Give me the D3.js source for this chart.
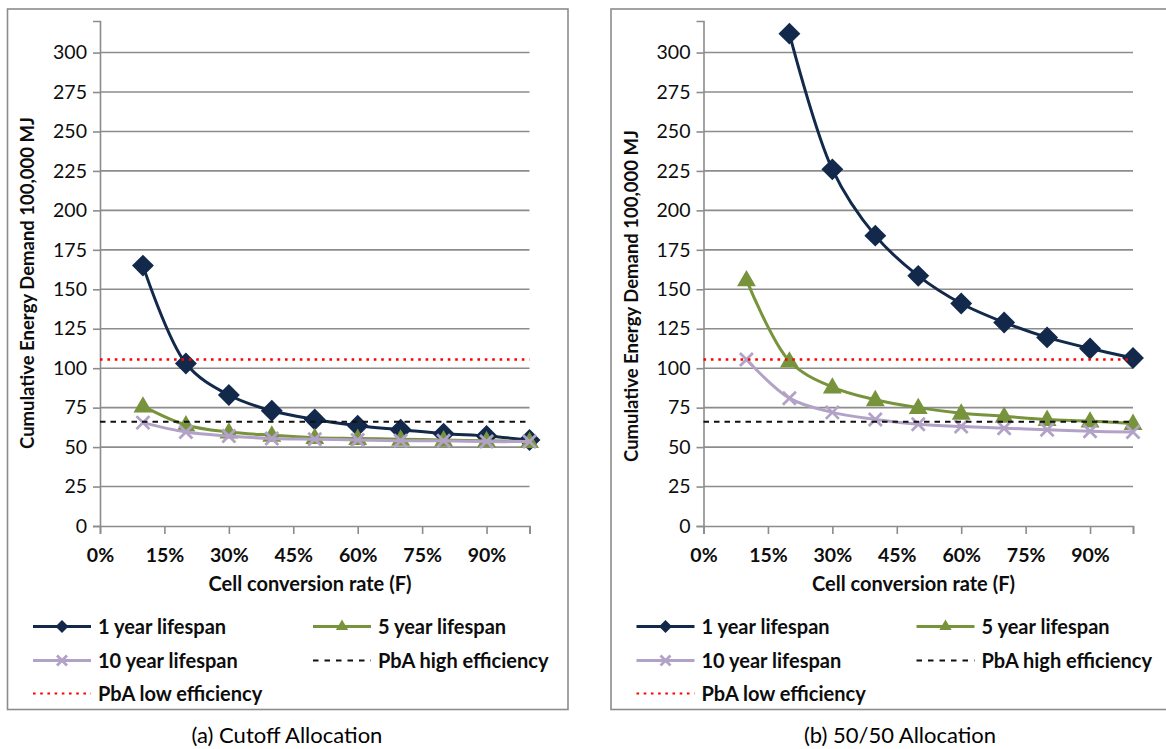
<!DOCTYPE html>
<html>
<head>
<meta charset="utf-8">
<script src="https://cdn.jsdelivr.net/npm/d3@7"></script>
<style>
  body { margin: 0; background: #fff; }
  svg { display: block; font-family: Lato, "Open Sans", sans-serif; }
  .grid line { stroke: #8c8c8c; stroke-width: 1.6; }
</style>
</head>
<body>
<div id="chart"></div>
<script>
// conversion rate F for every point
const rates = [0.1, 0.2, 0.3, 0.4, 0.5, 0.6, 0.7, 0.8, 0.9, 1.0]

// (a) cutoff allocation
const cutoffOneYear = [165, 103, 83, 73, 67.5, 63.5, 61, 58.5, 57, 54.5]
const cutoffFiveYear = [76, 64, 59.5, 57.5, 56, 55.5, 55, 54.5, 54, 53.5]
const cutoffTenYear = [65.5, 59.5, 57, 55.5, 55, 54.5, 54, 54, 53.5, 53.5]

// (b) 50/50 allocation (1 year at 10% is off the chart)
const splitOneYear = [null, 312, 226, 184, 158.5, 141, 129, 119.5, 112.5, 106.5]
const splitFiveYear = [156, 104.5, 88, 80, 75, 71.5, 69.5, 67.5, 66.5, 65]
const splitTenYear = [105.5, 81, 72, 67.5, 64.5, 63, 62, 61, 60, 59.5]

// lead-acid reference levels
const pbaHigh = 66
const pbaLow = 105.5

const yTicks = [0, 25, 50, 75, 100, 125, 150, 175, 200, 225, 250, 275, 300]
const xTicks = [0, 0.15, 0.3, 0.45, 0.6, 0.75, 0.9]
const legendLabels = ["1 year lifespan", "5 year lifespan", "10 year lifespan", "PbA high efficiency", "PbA low efficiency"]
const captions = ["(a) Cutoff Allocation", "(b) 50/50 Allocation"]

const navy = "#13294b", green = "#77933c", lilac = "#b3a2c7"
const ink = "#0d0d0d"

const width = 1166, height = 749

const svg = d3.select("#chart").append("svg")
    .attr("width", width)
    .attr("height", height)

const yScale = d3.scaleLinear().domain([0, 320]).range([526, 21])

const diamond = d3.symbol().type(d3.symbolSquare)
const triangle = d3.symbol().type(d3.symbolTriangle)
const crossPath = s => `M${-s},${-s}L${s},${s}M${-s},${s}L${s},${-s}`

function drawMarker(g, kind, x, y, big) {
    if (kind === "diamond") {
        g.append("path")
            .attr("d", diamond.size(big ? 240 : 85)())
            .attr("transform", `translate(${x},${y}) rotate(45)`)
            .attr("fill", navy)
    } else if (kind === "triangle") {
        g.append("path")
            .attr("d", triangle.size(big ? 155 : 65)())
            .attr("transform", `translate(${x},${y + (big ? 1 : 0)})`)
            .attr("fill", green)
    } else if (kind === "cross") {
        g.append("path")
            .attr("d", crossPath(big ? 6.5 : 5))
            .attr("transform", `translate(${x},${y})`)
            .attr("stroke", lilac)
            .attr("stroke-width", 2.8)
            .attr("fill", "none")
    }
}

function drawPanel(ox, boxW, captionX, series, caption) {
    const g = svg.append("g").attr("transform", `translate(${ox},0)`)
    const xScale = d3.scaleLinear().domain([0, 1]).range([100, 529.5])

    // frame around the panel
    g.append("rect")
        .attr("x", 7.5).attr("y", 9)
        .attr("width", boxW).attr("height", 700.5)
        .attr("fill", "none")
        .attr("stroke", "#8c8c8c")
        .attr("stroke-width", 1.6)

    // horizontal gridlines
    g.append("g").attr("class", "grid")
        .selectAll("line")
        .data(yTicks.filter(d => d > 0))
        .join("line")
        .attr("x1", xScale(0)).attr("x2", xScale(1))
        .attr("y1", d => yScale(d)).attr("y2", d => yScale(d))

    // y axis
    const yAxis = g.append("g")
        .attr("transform", `translate(${xScale(0)},0)`)
        .call(d3.axisLeft(yScale).tickValues(yTicks).tickSize(7).tickPadding(6).tickFormat(d3.format("d")))
    yAxis.select(".domain").attr("stroke", "#8c8c8c").attr("stroke-width", 1.6)
    yAxis.selectAll(".tick line").attr("stroke", "#8c8c8c").attr("stroke-width", 1.6)
    yAxis.selectAll(".tick text")
        .attr("fill", ink)
        .style("font-size", "19.5px")
        .style("font-family", "Lato, sans-serif")

    // x axis
    const xAxis = g.append("g")
        .attr("transform", `translate(0,${yScale(0)})`)
        .call(d3.axisBottom(xScale).tickValues([...xTicks, 1]).tickSize(8).tickPadding(14)
            .tickFormat(d => d < 1 ? d3.format(".0%")(d) : ""))
    xAxis.select(".domain").attr("stroke", "#8c8c8c").attr("stroke-width", 1.6)
    xAxis.selectAll(".tick line").attr("stroke", "#8c8c8c").attr("stroke-width", 1.6)
    xAxis.selectAll(".tick text")
        .attr("fill", ink)
        .style("font-size", "19.5px")
        .style("font-weight", "bold")
        .style("font-family", "Lato, sans-serif")

    // axis titles
    g.append("text")
        .attr("transform", `translate(34,${ox ? 296 : 283}) rotate(-90)`)
        .attr("text-anchor", "middle")
        .style("font-size", "18.5px")
        .style("font-weight", "bold")
        .attr("fill", ink)
        .text("Cumulative Energy Demand 100,000 MJ")

    g.append("text")
        .attr("x", 310).attr("y", 591)
        .attr("text-anchor", "middle")
        .style("font-size", "20px")
        .style("font-weight", "bold")
        .attr("fill", ink)
        .text("Cell conversion rate (F)")

    const line = d3.line()
        .defined(d => d[1] != null)
        .x(d => xScale(d[0]))
        .y(d => yScale(d[1]))
        .curve(d3.curveCatmullRom.alpha(0.5))

    const plot = g.append("g")
    series.forEach(s => {
        const pts = rates.map((r, i) => [r, s.values[i]])
        plot.append("path")
            .attr("d", line(pts))
            .attr("fill", "none")
            .attr("stroke", s.color)
            .attr("stroke-width", 3)
        pts.filter(d => d[1] != null)
            .forEach(d => drawMarker(plot, s.marker, xScale(d[0]), yScale(d[1]), true))
    })

    // PbA reference lines
    plot.append("line")
        .attr("x1", xScale(0)).attr("x2", xScale(1))
        .attr("y1", yScale(pbaHigh)).attr("y2", yScale(pbaHigh))
        .attr("stroke", "#111").attr("stroke-width", 2)
        .attr("stroke-dasharray", "5.5,5")
    plot.append("line")
        .attr("x1", xScale(0)).attr("x2", xScale(1))
        .attr("y1", yScale(pbaLow)).attr("y2", yScale(pbaLow))
        .attr("stroke", "#ff0000").attr("stroke-width", 2.6)
        .attr("stroke-dasharray", "2.6,4.8")

    // legend
    const legendItems = [
        { label: legendLabels[0], color: navy, marker: "diamond", col: 0, row: 0 },
        { label: legendLabels[1], color: green, marker: "triangle", col: 1, row: 0 },
        { label: legendLabels[2], color: lilac, marker: "cross", col: 0, row: 1 },
        { label: legendLabels[3], color: "#111", dash: "5.5,6", col: 1, row: 1 },
        { label: legendLabels[4], color: "#ff0000", dash: "2.6,4.6", col: 0, row: 2 },
    ]
    const colX = [33, 313]
    const rowY = [626.5, 660.5, 693.5]
    const legend = g.append("g")
    legendItems.forEach(it => {
        const x0 = colX[it.col], y0 = rowY[it.row]
        legend.append("line")
            .attr("x1", x0).attr("x2", x0 + 58)
            .attr("y1", y0).attr("y2", y0)
            .attr("stroke", it.color)
            .attr("stroke-width", it.dash ? 2.2 : 3)
            .attr("stroke-dasharray", it.dash || null)
        if (it.marker) drawMarker(legend, it.marker, x0 + 29, y0, false)
        legend.append("text")
            .attr("x", x0 + 65).attr("y", y0)
            .attr("dy", "0.35em")
            .style("font-size", "20px")
            .style("font-weight", "bold")
            .attr("fill", ink)
            .text(it.label)
    })

    svg.append("text")
        .attr("x", captionX).attr("y", 743)
        .attr("text-anchor", "middle")
        .style("font-size", "22px")
        .attr("fill", "#000")
        .text(caption)
}

drawPanel(0, 560.5, 287, [
    { values: cutoffOneYear, color: navy, marker: "diamond" },
    { values: cutoffFiveYear, color: green, marker: "triangle" },
    { values: cutoffTenYear, color: lilac, marker: "cross" },
], captions[0])

drawPanel(603.5, 620, 900, [
    { values: splitOneYear, color: navy, marker: "diamond" },
    { values: splitFiveYear, color: green, marker: "triangle" },
    { values: splitTenYear, color: lilac, marker: "cross" },
], captions[1])
</script>
</body>
</html>
